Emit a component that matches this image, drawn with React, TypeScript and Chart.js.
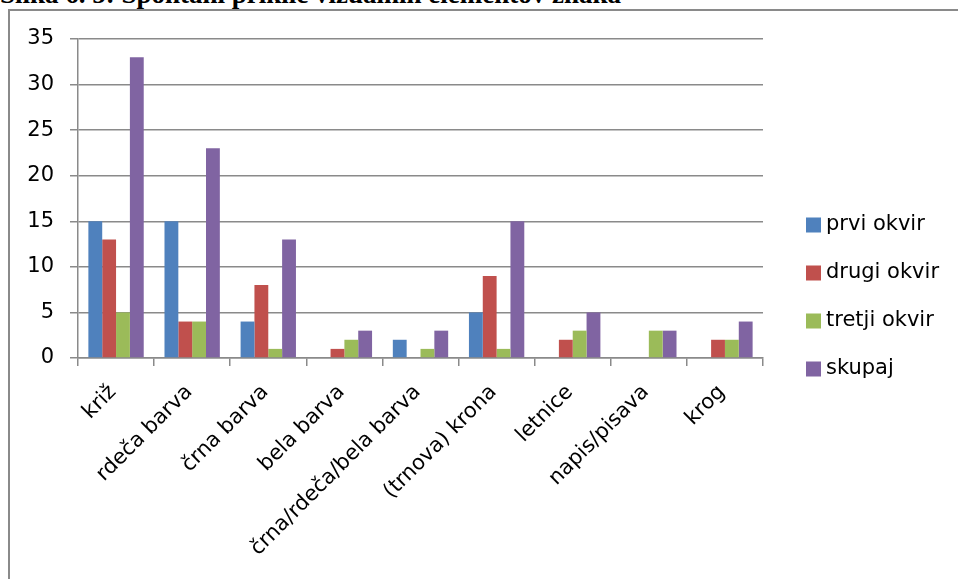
import React, { useEffect, useRef } from "react";
import { Chart, registerables } from "chart.js";

Chart.register(...registerables);

const TITLE = "Slika 6. 5: Spontani priklic vizualnih elementov znaka";

const categories = [
  "križ",
  "rdeča barva",
  "črna barva",
  "bela barva",
  "črna/rdeča/bela barva",
  "(trnova) krona",
  "letnice",
  "napis/pisava",
  "krog",
];

const seriesNames = ["prvi okvir", "drugi okvir", "tretji okvir", "skupaj"];

const prviOkvir = [15, 15, 4, 0, 2, 5, 0, 0, 0];
const drugiOkvir = [13, 4, 8, 1, 0, 9, 2, 0, 2];
const tretjiOkvir = [5, 4, 1, 2, 1, 1, 3, 3, 2];
const skupaj = [33, 23, 13, 3, 3, 15, 5, 3, 4];

const yMin = 0;
const yMax = 35;
const yStep = 5;

const seriesColors = ["#4F81BD", "#C0504D", "#9BBB59", "#8064A2"];

const FONT = "'DejaVu Sans', sans-serif";
const GRID = "#8a8a8a";

const W = 958;
const H = 579;

const LEGEND_X = 806;
const LEGEND_Y0 = 225;
const LEGEND_STEP = 48;
const LEGEND_BOX = 15;

const sideLegend = {
  id: "sideLegend",
  afterDraw(chart: any) {
    const ctx = chart.ctx;
    ctx.save();
    chart.data.datasets.forEach((ds: any, i: number) => {
      const yc = LEGEND_Y0 + i * LEGEND_STEP;
      ctx.fillStyle = ds.backgroundColor;
      ctx.fillRect(LEGEND_X, yc - LEGEND_BOX / 2, LEGEND_BOX, LEGEND_BOX);
      ctx.fillStyle = "#000";
      ctx.font = `21px ${FONT}`;
      ctx.textBaseline = "middle";
      ctx.textAlign = "left";
      ctx.fillText(ds.label, LEGEND_X + LEGEND_BOX + 5, yc);
    });
    ctx.restore();
  },
};

export default function App() {
  const ref = useRef<HTMLCanvasElement | null>(null);

  useEffect(() => {
    if (!ref.current) return;
    const data = [prviOkvir, drugiOkvir, tretjiOkvir, skupaj];
    const chart = new Chart(ref.current, {
      type: "bar",
      data: {
        labels: categories,
        datasets: seriesNames.map((name, i) => ({
          label: name,
          data: data[i],
          backgroundColor: seriesColors[i],
          borderWidth: 0,
          categoryPercentage: 4 / 5.5,
          barPercentage: 1,
        })),
      },
      options: {
        responsive: false,
        animation: false,
        devicePixelRatio: 1,
        layout: { padding: { left: 0, top: 39, right: W - 763, bottom: 0 } },
        plugins: {
          legend: { display: false },
          tooltip: { enabled: false },
          title: { display: false },
        },
        scales: {
          x: {
            offset: true,
            afterFit: (scale: any) => {
              scale.height = H - 358;
            },
            grid: {
              display: true,
              offset: true,
              drawOnChartArea: false,
              drawTicks: true,
              tickLength: 8,
              color: GRID,
              lineWidth: 1.5,
            },
            border: { display: true, color: GRID, width: 1.5 },
            ticks: {
              autoSkip: false,
              minRotation: 45,
              maxRotation: 45,
              labelOffset: -3,
              padding: 14,
              color: "#000",
              font: { family: FONT, size: 21 },
            },
          },
          y: {
            min: yMin,
            max: yMax,
            afterFit: (scale: any) => {
              scale.width = 78;
            },
            grid: {
              color: GRID,
              lineWidth: 1.5,
              drawTicks: true,
              tickLength: 8,
            },
            border: { display: true, color: GRID, width: 1.5 },
            ticks: {
              stepSize: yStep,
              padding: 16,
              color: "#000",
              font: { family: FONT, size: 21 },
            },
          },
        },
      },
      plugins: [sideLegend],
    });
    return () => chart.destroy();
  }, []);

  return (
    <div
      style={{
        position: "fixed",
        inset: 0,
        overflow: "hidden",
        background: "#fff",
      }}
    >
      <div
        style={{
          position: "absolute",
          left: 0,
          top: -19,
          fontFamily: "'Liberation Serif', serif",
          fontWeight: "bold",
          fontSize: 27,
          lineHeight: "27px",
          whiteSpace: "nowrap",
          color: "#000",
        }}
      >
        {TITLE}
      </div>
      <div
        style={{
          position: "absolute",
          left: 8,
          top: 9,
          width: 1200,
          height: 900,
          borderLeft: "2px solid #8a8a8a",
          borderTop: "2px solid #8a8a8a",
          boxSizing: "border-box",
        }}
      />
      <canvas
        ref={ref}
        width={W}
        height={H}
        style={{ position: "absolute", left: 0, top: 0 }}
      />
    </div>
  );
}
